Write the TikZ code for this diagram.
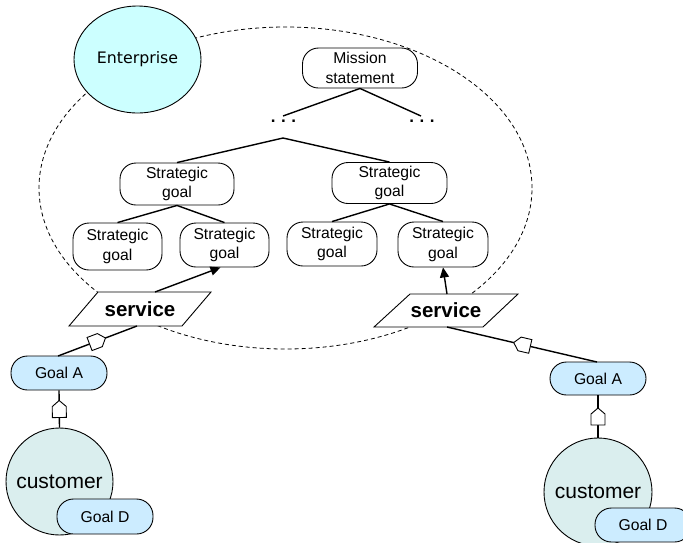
\documentclass[tikz,border=0pt]{standalone}
\usepackage{fontspec}
\setmainfont{Liberation Sans}
\newfontfamily\entfont{DejaVu Sans}
\usetikzlibrary{arrows.meta,shapes.geometric}
\definecolor{entcyan}{HTML}{CCFFFF}
\definecolor{goalblue}{HTML}{CCECFF}
\definecolor{custfill}{HTML}{DAEEEE}
\begin{document}
\begin{tikzpicture}[x=1pt,y=-1pt,
  sgbox/.style={draw, line width=0.9pt, rounded corners=16pt, align=center, inner sep=0pt,
    font=\fontsize{15.7}{19.5}\selectfont},
  goalbox/.style={draw, line width=0.9pt, fill=goalblue, rounded corners=16.5pt, inner sep=0pt,
    minimum width=96pt, minimum height=34pt, font=\fontsize{15.7}{18}\selectfont},
  custnode/.style={draw, line width=0.9pt, fill=custfill, circle, inner sep=0pt,
    font=\fontsize{21}{24}\selectfont},
  svcshape/.style={draw, line width=0.9pt, fill=white},
  svctext/.style={inner sep=0pt, font=\fontsize{20.5}{24}\selectfont\bfseries},
  dotsnode/.style={inner sep=0pt, font=\fontsize{17}{17}\selectfont\bfseries},
  conn/.style={draw, line width=1.4pt},
  realize/.style={conn, -{Triangle[length=10pt, width=9pt]}},
  house/.pic={\draw[line width=0.9pt, fill=white] (-8.5,-7) -- (2.5,-7) -- (8.5,0) -- (2.5,7) -- (-8.5,7) -- cycle;}
]
\useasboundingbox (0,0) rectangle (683,542);

% enterprise boundary
\draw[line width=0.8pt, dash pattern=on 4pt off 3pt] (285.5,188) ellipse [x radius=246.5pt, y radius=161pt];

% enterprise
\node[draw, line width=0.9pt, fill=entcyan, ellipse, minimum width=127pt, minimum height=107pt,
  inner sep=0pt, font=\entfont\fontsize{15.8}{18}\selectfont] (ent) at (137.5,59.5) {Enterprise};

% goal tree
\node[sgbox, minimum width=115pt, minimum height=40pt] (mission) at (360,68) {Mission\\statement};
\node[dotsnode] (dotsL) at (283.5,121) {.\hspace{5.5pt}.\hspace{5.5pt}.};
\node[dotsnode] (dotsR) at (422,121) {.\hspace{5.5pt}.\hspace{5.5pt}.};
\coordinate (dotsLtop) at (283,116);
\coordinate (dotsRtop) at (421,116);
\coordinate (dotsLbot) at (283,138);

\node[sgbox, minimum width=114pt, minimum height=42pt] (sgTL) at (177,184) {Strategic\\goal};
\node[sgbox, minimum width=115pt, minimum height=41pt] (sgTR) at (389.5,183) {Strategic\\goal};
\node[sgbox, minimum width=89pt, minimum height=47pt] (sg1) at (117.5,246.5) {Strategic\\goal};
\node[sgbox, minimum width=89pt, minimum height=44pt] (sg2) at (224.5,245) {Strategic\\goal};
\node[sgbox, minimum width=90pt, minimum height=44pt] (sg3) at (332,244) {Strategic\\goal};
\node[sgbox, minimum width=90pt, minimum height=45pt] (sg4) at (443,244.5) {Strategic\\goal};

\draw[conn] (mission.south) -- (dotsLtop);
\draw[conn] (mission.south) -- (dotsRtop);
\draw[conn] (dotsLbot) -- (sgTL.north);
\draw[conn] (dotsLbot) -- (sgTR.north);
\draw[conn] (sgTL.south) -- (sg1.north);
\draw[conn] (sgTL.south) -- (sg2.north);
\draw[conn] (sgTR.south) -- (sg3.north);
\draw[conn] (sgTR.south) -- (sg4.north);

% services
\draw[svcshape] (98,292) -- (211,292) -- (182,326) -- (69,326) -- cycle;
\node[svctext] (svcL) at (140,309) {service};
\coordinate (svcLtop) at (155,292);
\coordinate (svcLbot) at (137,326);

\draw[svcshape] (410,294) -- (518,294) -- (483,327) -- (374,327) -- cycle;
\node[svctext] (svcR) at (446,310.5) {service};
\coordinate (svcRtop) at (447,294);
\coordinate (svcRbot) at (447,327);

\draw[realize] (svcLtop) -- ([xshift=-4pt]sg2.south);
\draw[realize] (svcRtop) -- (sg4.south);

% left customer
\node[goalbox] (goalAL) at (59,373) {Goal A};
\node[custnode, minimum size=107pt] (custL) at (59.5,481.5) {customer};
\node[goalbox, minimum height=35pt] (goalDL) at (105,516.5) {Goal D};
\coordinate (goalALtop) at (58,356);

% right customer
\node[goalbox, minimum height=33pt] (goalAR) at (598,378.5) {Goal A};
\node[custnode, minimum size=108pt] (custR) at (598,492) {customer};
\node[goalbox] (goalDR) at (643,525) {Goal D};
\coordinate (goalARtop) at (597,362);

% goal fulfilment links
\draw[conn] (goalALtop) -- pic[sloped, allow upside down, pos=0.5] {house} (svcLbot);
\draw[conn] (goalARtop) -- pic[sloped, allow upside down, pos=0.5] {house} (svcRbot);
\draw[conn] (custL.north) -- pic[sloped, allow upside down, pos=0.5] {house} (goalAL.south);
\draw[conn] (custR.north) -- pic[sloped, allow upside down, pos=0.5] {house} (goalAR.south);
\end{tikzpicture}
\end{document}
